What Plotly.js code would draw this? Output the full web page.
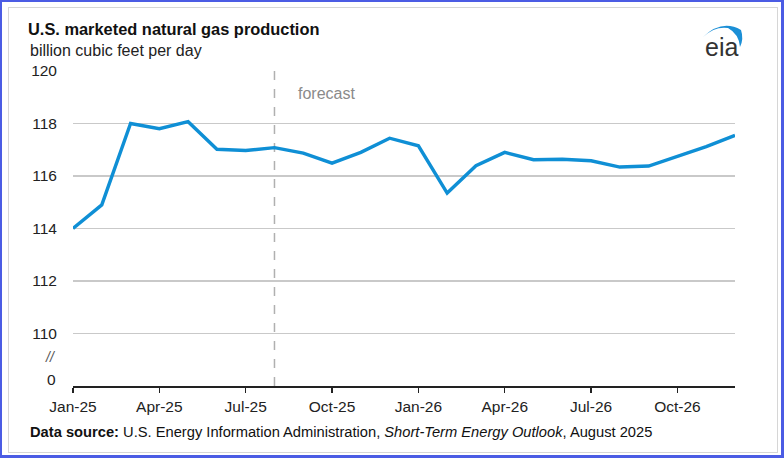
<!DOCTYPE html>
<html>
<head>
<meta charset="utf-8">
<script src="https://cdn.plot.ly/plotly-3.0.1.min.js"></script>
<style>
  html, body { margin: 0; padding: 0; background: #fff; }
  #wrap { position: relative; width: 784px; height: 458px; overflow: hidden; }
  #chart { position: absolute; left: 0; top: 0; width: 784px; height: 458px; }
  #outer { position: absolute; left: 0; top: 0; width: 784px; height: 458px; box-sizing: border-box;
           border-style: solid; border-color: #4b5ce4; border-width: 2px 3px 3px 2px; pointer-events: none; }
  #inner { position: absolute; left: 8px; top: 7px; width: 770px; height: 446px; box-sizing: border-box;
           border: 1px solid #d6d6d6; pointer-events: none; }
</style>
</head>
<body>
<div id="wrap">
  <div id="chart"></div>
  <div id="inner"></div>
  <div id="outer"></div>
</div>
<script>
// ---- Data ----
const months = ['Jan-25','Feb-25','Mar-25','Apr-25','May-25','Jun-25','Jul-25','Aug-25','Sep-25','Oct-25','Nov-25','Dec-25',
                'Jan-26','Feb-26','Mar-26','Apr-26','May-26','Jun-26','Jul-26','Aug-26','Sep-26','Oct-26','Nov-26','Dec-26'];
const production = [114.0, 114.9, 118.0, 117.8, 118.07, 117.02, 116.97, 117.08, 116.87, 116.49, 116.9, 117.44,
                    117.15, 115.35, 116.39, 116.9, 116.62, 116.64, 116.58, 116.34, 116.38, 116.75, 117.12, 117.55];
const xTickLabels = ['Jan-25','Apr-25','Jul-25','Oct-25','Jan-26','Apr-26','Jul-26','Oct-26'];
const yTickVals = [110, 112, 114, 116, 118, 120];
const yTickLabels = ['110','112','114','116','118','120'];
const forecastStart = 'Aug-25';

// ---- Layout helpers (pixel -> paper) ----
const W = 784, H = 458;
const M = {l: 73, r: 49, t: 71, b: 72};
const PW = W - M.l - M.r, PH = H - M.t - M.b;
const px = X => (X - M.l) / PW;
const py = Y => (H - M.b - Y) / PH;

const fontFam = 'Arial, "Liberation Sans", sans-serif';

const trace = {
  x: months,
  y: production,
  type: 'scatter',
  mode: 'lines',
  line: {color: '#0f8fd5', width: 3.4},
  hoverinfo: 'x+y'
};

const fIdx = months.indexOf(forecastStart);

const layout = {
  width: W, height: H,
  margin: M,
  paper_bgcolor: '#ffffff',
  plot_bgcolor: '#ffffff',
  showlegend: false,
  font: {family: fontFam, color: '#222', size: 15},
  title: {
    text: '<b>U.S. marketed natural gas production</b>',
    font: {family: fontFam, size: 16.4, color: '#111'},
    xref: 'container', yref: 'container',
    x: 28 / W, xanchor: 'left',
    y: 1 - 29 / H, yanchor: 'middle'
  },
  xaxis: {
    type: 'category',
    categoryorder: 'array',
    categoryarray: months,
    range: [0, months.length - 1],
    tickmode: 'array',
    tickvals: xTickLabels,
    ticktext: xTickLabels,
    showgrid: false,
    showline: true,
    linecolor: '#222',
    linewidth: 2,
    ticks: 'outside',
    ticklen: 5,
    tickwidth: 1.5,
    tickcolor: '#222',
    tickfont: {family: fontFam, size: 15.5, color: '#222'},
    zeroline: false,
    fixedrange: true
  },
  yaxis: {
    range: [108, 120],
    tickmode: 'array',
    tickvals: yTickVals,
    ticktext: yTickLabels,
    showgrid: true,
    gridcolor: '#c9c9c9',
    gridwidth: 1.5,
    showline: false,
    zeroline: false,
    ticks: '',
    ticklabelstandoff: 15,
    tickfont: {family: fontFam, size: 15.5, color: '#222'},
    fixedrange: true
  },
  shapes: [
    {
      type: 'line', xref: 'x', yref: 'paper',
      x0: fIdx, x1: fIdx, y0: 0, y1: 1,
      line: {color: '#b0b0b0', width: 1.5, dash: 'dash'},
      layer: 'below'
    },
    {
      // eia logo arc
      type: 'path', xref: 'paper', yref: 'paper',
      path: `M ${px(703)} ${py(37)} Q ${px(722)} ${py(19)} ${px(741)} ${py(30)} Q ${px(744)} ${py(39)} ${px(740)} ${py(47)} Q ${px(739)} ${py(34)} ${px(728)} ${py(28)} Q ${px(715)} ${py(26)} ${px(703)} ${py(37)} Z`,
      fillcolor: '#1b8fd6',
      line: {width: 0}
    }
  ],
  annotations: [
    {
      text: 'billion cubic feet per day',
      xref: 'paper', yref: 'paper',
      x: px(28), y: py(50), xanchor: 'left', yanchor: 'middle',
      showarrow: false,
      font: {family: fontFam, size: 16, color: '#222'}
    },
    {
      text: 'forecast',
      xref: 'paper', yref: 'paper',
      x: px(296), y: py(94), xanchor: 'left', yanchor: 'middle',
      showarrow: false,
      font: {family: fontFam, size: 16, color: '#8a8a8a'}
    },
    {
      text: '0',
      xref: 'paper', yref: 'paper',
      x: px(58), y: py(379), xanchor: 'right', yanchor: 'middle',
      showarrow: false,
      font: {family: fontFam, size: 15.5, color: '#222'}
    },
    {
      text: '<i>//</i>',
      xref: 'paper', yref: 'paper',
      x: px(58), y: py(357), xanchor: 'right', yanchor: 'middle',
      showarrow: false,
      font: {family: fontFam, size: 14, color: '#555'}
    },
    {
      text: '<b>Data source:</b> U.S. Energy Information Administration, <i>Short-Term Energy Outlook</i>, August 2025',
      xref: 'paper', yref: 'paper',
      x: px(28), y: py(432), xanchor: 'left', yanchor: 'middle',
      showarrow: false,
      font: {family: fontFam, size: 14.7, color: '#111'}
    },
    {
      text: 'eia',
      xref: 'paper', yref: 'paper',
      x: px(721), y: py(47), xanchor: 'center', yanchor: 'middle',
      showarrow: false,
      font: {family: fontFam, size: 25, color: '#333'}
    }
  ]
};

Plotly.newPlot('chart', [trace], layout, {displayModeBar: false, staticPlot: true});
</script>
</body>
</html>
